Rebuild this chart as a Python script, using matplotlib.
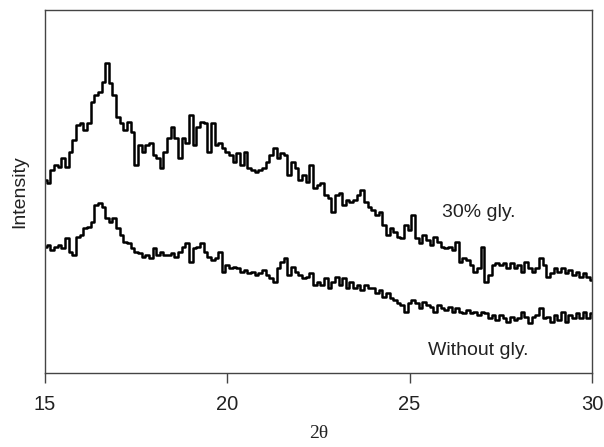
import numpy as np
import matplotlib.pyplot as plt

# 2-theta scan, step 0.1 deg (arbitrary units)
two_theta = np.round(np.arange(15.0, 30.05, 0.1), 1)

gly30 = [
    193, 190, 203, 208, 206, 215, 206, 221, 233, 248,
    250, 243, 250, 271, 278, 281, 291, 310, 290, 278,
    256, 250, 243, 251, 241, 208, 228, 221, 228, 230,
    218, 215, 205, 221, 235, 246, 235, 215, 235, 230,
    258, 228, 246, 251, 250, 221, 250, 228, 230, 225,
    221, 218, 211, 220, 208, 221, 205, 203, 201, 203,
    205, 211, 218, 225, 215, 220, 218, 198, 211, 205,
    193, 198, 191, 208, 185, 188, 190, 178, 175, 161,
    178, 180, 168, 173, 171, 173, 178, 183, 171, 166,
    163, 158, 161, 148, 138, 145, 141, 136, 135, 148,
    143, 158, 135, 130, 138, 133, 128, 136, 131, 126,
    125, 126, 123, 131, 111, 115, 113, 108, 101, 105,
    126, 91, 98, 108, 110, 108, 110, 105, 110, 105,
    108, 101, 111, 105, 101, 105, 115, 108, 96, 100,
    105, 101, 105, 100, 103, 98, 101, 96, 100, 96,
    93,
]

no_gly = [
    126, 128, 123, 126, 128, 125, 135, 121, 118, 136,
    138, 145, 146, 151, 168, 170, 166, 155, 151, 155,
    145, 138, 131, 130, 125, 121, 120, 116, 118, 115,
    125, 118, 121, 118, 118, 120, 116, 121, 126, 130,
    111, 125, 126, 130, 121, 116, 113, 115, 121, 101,
    108, 105, 106, 105, 101, 103, 100, 101, 98, 100,
    103, 98, 95, 91, 105, 111, 115, 98, 106, 101,
    98, 95, 96, 100, 88, 91, 88, 95, 85, 91,
    96, 88, 95, 85, 91, 85, 88, 83, 88, 85,
    85, 80, 83, 76, 80, 75, 73, 70, 68, 61,
    70, 73, 70, 65, 71, 68, 66, 61, 68, 65,
    63, 66, 61, 65, 61, 60, 63, 60, 61, 58,
    61, 60, 55, 58, 53, 58, 55, 51, 56, 53,
    55, 61, 56, 50, 56, 58, 65, 55, 56, 51,
    58, 53, 61, 51, 58, 55, 60, 55, 61, 55,
    60,
]

xticks = [15, 20, 25, 30]

plt.rcParams['font.family'] = ['Liberation Sans', 'DejaVu Sans']

fig = plt.figure(figsize=(6.04, 4.47), dpi=100)
ax = fig.add_axes([0.0745, 0.1655, 0.9055, 0.812])

ax.plot(two_theta, gly30, color='black', lw=1.8, drawstyle='steps-mid')
ax.plot(two_theta, no_gly, color='black', lw=1.8, drawstyle='steps-mid')

ax.text(25.9, 161, '30% gly.', fontsize=14, color='#222222', va='center')
ax.text(25.5, 23, 'Without gly.', fontsize=14, color='#222222', va='center')

ax.set_xlim(15, 30)
ax.set_ylim(0, 363)
ax.set_xticks(xticks)
ax.set_yticks([])
ax.tick_params(axis='x', direction='out', length=7, width=1, color='#444444',
               labelsize=14.5, labelcolor='#222222', pad=9)
for s in ax.spines.values():
    s.set_color('#444444')
    s.set_linewidth(1)

ax.set_xlabel('2θ', fontsize=14, family=['Liberation Serif', 'DejaVu Serif'],
              color='#222222', labelpad=8)
ax.set_ylabel('Intensity', fontsize=14, color='#222222', labelpad=12)

fig.savefig('out.png', dpi=100)
